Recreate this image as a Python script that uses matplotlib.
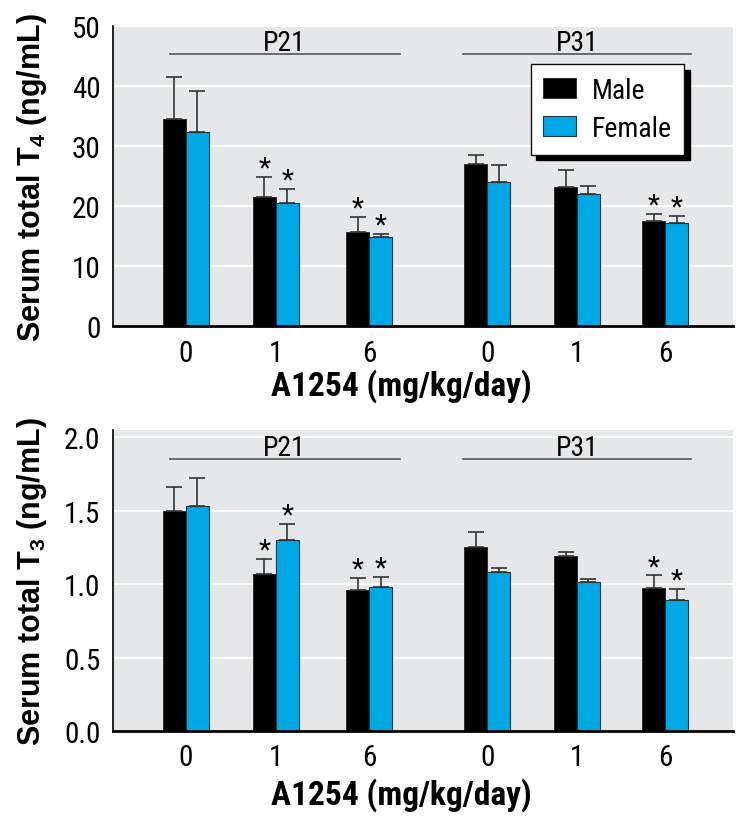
import numpy as np
import matplotlib.pyplot as plt

# data
doses = ['0', '1', '6', '0', '1', '6']
ages = ['P21', 'P31']

t4_male = [34.5, 21.5, 15.7, 27.0, 23.2, 17.6]
t4_male_err = [7.0, 3.4, 2.5, 1.6, 2.9, 1.1]
t4_female = [32.4, 20.6, 14.9, 24.1, 22.0, 17.2]
t4_female_err = [6.8, 2.2, 0.5, 2.7, 1.4, 1.2]
t4_male_sig = [False, True, True, False, False, True]
t4_female_sig = [False, True, True, False, False, True]

t3_male = [1.50, 1.07, 0.96, 1.255, 1.19, 0.975]
t3_male_err = [0.16, 0.10, 0.08, 0.10, 0.03, 0.085]
t3_female = [1.535, 1.30, 0.98, 1.08, 1.015, 0.89]
t3_female_err = [0.185, 0.11, 0.07, 0.03, 0.02, 0.08]
t3_male_sig = [False, True, True, False, False, True]
t3_female_sig = [False, True, True, False, False, True]

narrow = ['Roboto Condensed', 'Archivo Narrow', 'Liberation Sans Narrow', 'DejaVu Sans']
plt.rcParams['mathtext.fontset'] = 'custom'
plt.rcParams['mathtext.bf'] = 'Liberation Sans:bold'
plt.rcParams['mathtext.rm'] = 'Liberation Sans'

blue = '#00a9e6'
bg = '#e6e7e8'

xpos = np.array([0, 1, 2.04, 3.35, 4.35, 5.33])
w = 0.255


def panel(ax, male, male_err, female, female_err, msig, fsig, ymax, yticks,
          ylabel, group_y, star_off, xlab_y):
    ax.set_facecolor(bg)
    ax.set_axisbelow(True)
    ax.yaxis.grid(True, color='white', lw=1.5)
    zeros = [0] * len(male)
    ekw = dict(ecolor='#333333', elinewidth=1.2, capsize=6, capthick=1.2)
    ax.bar(xpos - w / 2, male, w, color='black', edgecolor='#222222', lw=0.6,
           yerr=[zeros, male_err], error_kw=ekw, label='Male')
    ax.bar(xpos + w / 2, female, w, color=blue, edgecolor='#1a3a4a', lw=0.8,
           yerr=[zeros, female_err], error_kw=ekw, label='Female')
    for i in range(len(male)):
        if msig[i]:
            ax.text(xpos[i] - w / 2, male[i] + male_err[i] + star_off, '*', ha='center', va='center',
                    fontsize=20, family=narrow)
        if fsig[i]:
            ax.text(xpos[i] + w / 2, female[i] + female_err[i] + star_off, '*', ha='center', va='center',
                    fontsize=20, family=narrow)
    # age group brackets
    for name, (a, b) in zip(ages, [(-0.18, 2.38), (3.08, 5.62)]):
        ax.plot([a, b], [group_y, group_y], color='#555555', lw=1.2)
        ax.text((a + b) / 2, group_y + ymax * 0.014, name, ha='center', va='baseline',
                fontsize=20, family=narrow)
    ax.set_xlim(-0.81, 6.08)
    ax.set_ylim(0, ymax)
    ax.set_yticks(yticks)
    ax.set_yticklabels([('%g' % t) if ymax > 10 else ('%.1f' % t) for t in yticks],
                       family=narrow, fontsize=21)
    ax.set_xticks(xpos)
    ax.set_xticklabels(doses, family=narrow, fontsize=21)
    ax.tick_params(axis='both', length=0)
    ax.tick_params(axis='y', pad=9)
    ax.tick_params(axis='x', pad=9)
    for s in ['top', 'right']:
        ax.spines[s].set_visible(False)
    ax.spines['left'].set_linewidth(1.2)
    ax.spines['bottom'].set_linewidth(2)
    ax.set_ylabel(ylabel, fontsize=22, fontweight='bold', family='Liberation Sans')
    ax.yaxis.set_label_coords(-0.103, 0.5)
    ax.set_xlabel('A1254 (mg/kg/day)', fontsize=24, fontweight='bold', family=narrow)
    ax.xaxis.set_label_coords(0.466, xlab_y)


fig = plt.figure(figsize=(7.43, 8.28), dpi=100)
ax1 = fig.add_axes([0.152, 0.605, 0.834, 0.362])
ax2 = fig.add_axes([0.152, 0.116, 0.834, 0.3635])

panel(ax1, t4_male, t4_male_err, t4_female, t4_female_err, t4_male_sig, t4_female_sig,
      50, [0, 10, 20, 30, 40, 50], 'Serum total T$_\\mathbf{4}$ (ng/mL)', 45.3, 1.5, -0.14)
panel(ax2, t3_male, t3_male_err, t3_female, t3_female_err, t3_male_sig, t3_female_sig,
      2.05, [0.0, 0.5, 1.0, 1.5, 2.0], 'Serum total T$_\\mathbf{3}$ (ng/mL)', 1.85, 0.06, -0.155)

leg = ax1.legend(loc='upper left', bbox_to_anchor=(0.674, 0.873), prop=dict(family=narrow, size=20),
                 fancybox=False, edgecolor='#111111', framealpha=1,
                 shadow={'color': 'black', 'alpha': 1, 'ox': 4, 'oy': -4},
                 handlelength=1.2, handleheight=0.75, handletextpad=0.55, borderpad=0.45,
                 labelspacing=0.4, borderaxespad=0)
leg.get_frame().set_linewidth(1.0)

fig.savefig('out.png', dpi=100)
